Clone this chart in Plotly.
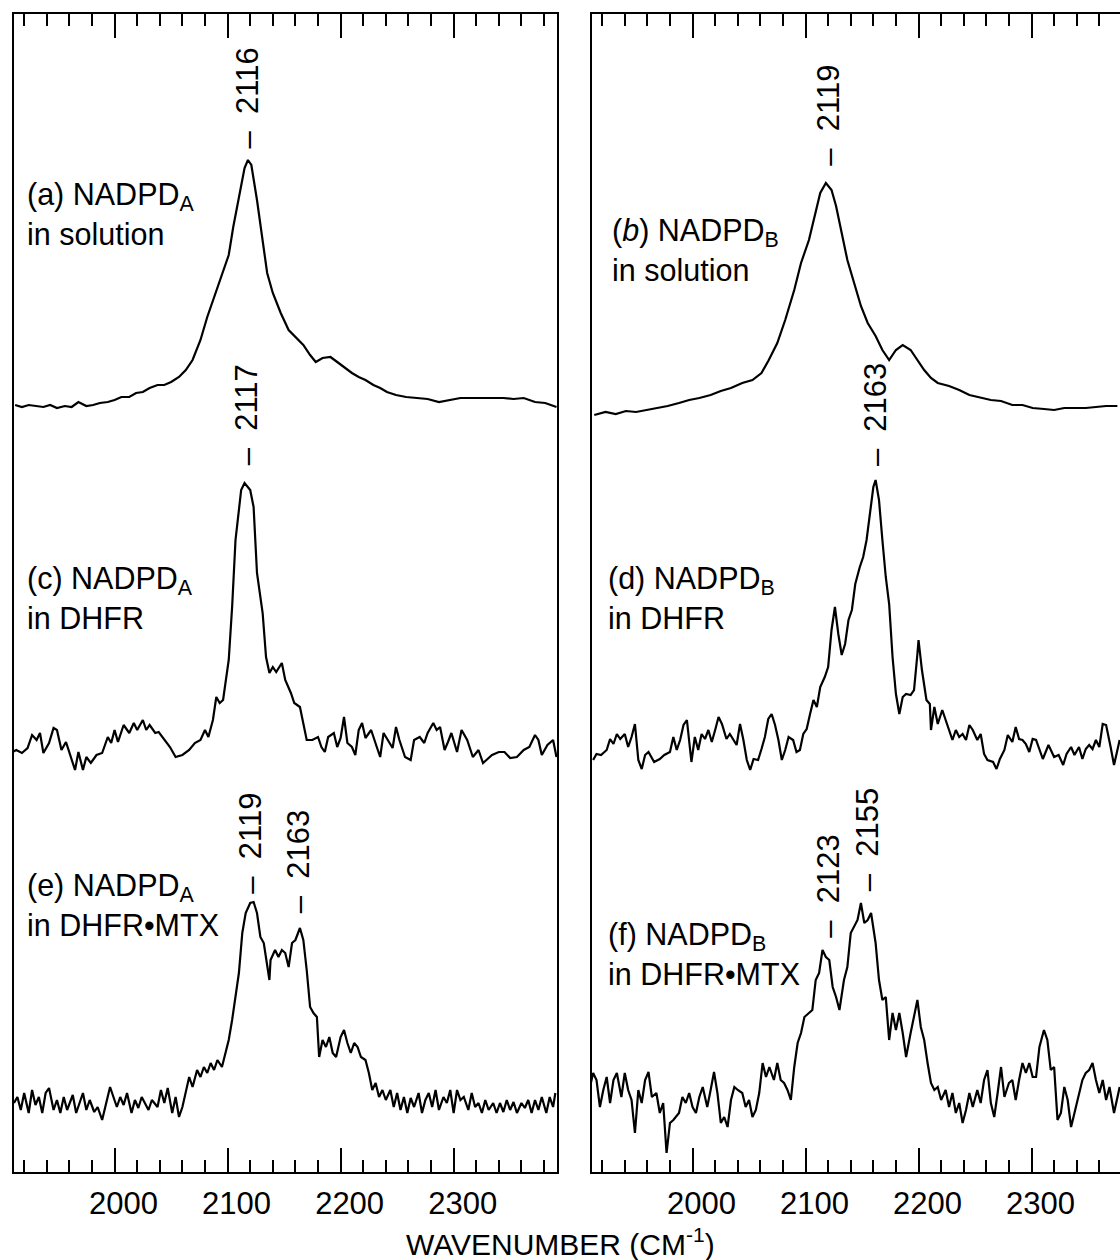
import plotly.graph_objects as go

# ---------------- data (wavenumber in cm-1, intensity in arbitrary units above each baseline) -------------
wn_a = [1912,1918,1924,1931,1937,1943,1949,1956,1962,1968,1975,1981,1987,1994,2000,2006,2013,2019,2025,2031,
        2038,2044,2050,2057,2063,2069,2076,2082,2088,2094,2101,2105,2110,2115,2118,2121,2126,2131,2135,2140,
        2147,2154,2161,2167,2173,2178,2184,2191,2197,2203,2210,2216,2222,2229,2235,2241,2249,2258,2268,2277,
        2287,2296,2306,2315,2325,2334,2344,2353,2362,2372,2381,2391]
int_a = [0,-2,0,-1,-2,0,-3,-1,-2,3,-1,0,2,3,5,8,8,12,13,17,
         20,20,23,28,35,45,65,88,108,128,150,178,208,237,245,240,205,165,132,112,
         92,75,67,60,50,43,47,48,43,38,32,28,25,20,17,13,10,8,7,6,
         3,5,7,7,7,7,7,6,7,3,2,-2]

wn_b = [1913,1923,1932,1941,1950,1960,1969,1978,1988,1997,2006,2016,2025,2034,2044,2053,2061,2067,2075,2082,
        2090,2096,2103,2109,2113,2118,2123,2127,2132,2137,2143,2149,2155,2162,2168,2174,2180,2186,2193,2199,
        2205,2211,2217,2227,2236,2245,2255,2264,2273,2283,2292,2301,2311,2320,2329,2338,2348,2357,2366,2376]
int_b = [-2,1,-1,2,1,3,5,7,10,13,15,18,22,25,30,33,40,52,70,93,
         123,150,173,200,220,230,223,207,180,153,130,107,90,77,63,53,63,68,63,53,
         43,35,30,27,23,18,15,13,12,8,8,5,4,3,5,5,5,6,7,7]

wn_c = [1910,1913,1918,1923,1927,1931,1934,1937,1942,1946,1949,1953,1957,1962,1965,1968,1972,1975,1979,1984,
        1989,1994,1997,2000,2003,2008,2013,2017,2020,2025,2028,2031,2036,2039,2044,2049,2054,2060,2066,2071,
        2076,2080,2083,2087,2090,2093,2096,2101,2104,2107,2112,2115,2120,2123,2126,2131,2134,2137,2140,2143,
        2148,2151,2156,2159,2164,2167,2170,2175,2180,2183,2186,2189,2194,2197,2200,2203,2206,2210,2213,2216,
        2219,2222,2227,2232,2235,2238,2243,2246,2249,2252,2257,2262,2265,2270,2274,2277,2282,2285,2288,2292,
        2295,2298,2303,2307,2312,2317,2322,2326,2329,2334,2340,2345,2350,2356,2362,2367,2372,2375,2378,2383,
        2388,2391]
int_c = [-2,0,-3,2,15,10,17,-3,7,22,20,0,8,-10,-20,-2,-20,-7,-13,-5,
         -3,13,7,20,8,25,17,27,20,30,20,25,17,18,10,3,-7,-5,0,7,
         10,20,13,30,53,47,50,90,143,210,260,267,260,243,177,137,93,77,83,78,
         87,70,57,47,43,27,10,10,13,3,-2,13,17,3,12,33,7,3,-5,20,
         27,12,20,3,-7,17,7,2,23,10,-7,-10,10,13,7,17,27,20,23,0,
         8,17,-2,20,10,-7,0,-13,-10,-5,-2,-2,-8,-7,0,3,15,10,-5,5,
         10,-7]

wn_d = [1912,1915,1919,1924,1927,1930,1933,1936,1940,1943,1946,1949,1952,1955,1958,1961,1966,1971,1975,1980,
        1983,1986,1989,1992,1995,1999,2002,2005,2008,2011,2014,2017,2020,2023,2026,2030,2033,2036,2039,2042,
        2045,2048,2051,2054,2058,2061,2064,2067,2070,2073,2076,2079,2082,2085,2089,2092,2095,2098,2101,2104,
        2107,2110,2113,2117,2120,2123,2126,2129,2132,2135,2138,2141,2144,2148,2151,2154,2157,2160,2162,2165,
        2168,2171,2174,2177,2180,2183,2186,2189,2193,2196,2199,2200,2203,2207,2210,2211,2214,2217,2221,2224,
        2227,2230,2233,2236,2239,2242,2245,2248,2252,2255,2258,2261,2266,2269,2272,2276,2279,2283,2286,2289,
        2292,2295,2298,2301,2304,2307,2310,2315,2320,2324,2328,2331,2335,2338,2342,2345,2348,2351,2354,2357,
        2360,2363,2366,2370,2373,2376,2378]
int_d = [-3,3,2,7,18,13,23,18,23,10,20,33,-3,-12,2,5,-5,-2,2,5,
         20,7,17,32,37,-5,20,7,23,18,27,15,27,40,33,18,23,17,12,33,
         17,-3,-13,-2,-3,8,20,38,43,32,17,-3,7,20,17,5,7,23,28,43,
         57,50,70,80,90,127,150,123,102,113,137,147,173,190,200,217,243,270,277,257,
         217,180,153,100,63,43,60,63,62,67,103,117,87,57,53,27,50,33,47,37,
         27,17,27,20,23,17,32,27,17,23,3,-3,-5,-12,-2,7,22,15,30,18,
         17,13,5,18,17,7,-2,12,0,2,-8,3,10,2,10,-2,8,12,8,17,
         10,33,32,10,-8,7,17]

wn_e = [1911,1914,1917,1920,1924,1927,1930,1933,1936,1939,1942,1946,1949,1952,1955,1958,
        1963,1966,1969,1972,1975,1978,1982,1985,
        1989,1993,1996,1999,2002,2005,2008,2011,2015,2018,2021,2024,2027,2030,2033,
        2038,2041,2044,2047,2051,2054,2057,2060,2063,2066,2069,2073,2076,2079,2082,2085,2088,2091,2095,2098,
        2101,2104,2107,2110,2113,2116,2120,2123,2126,2129,2132,2135,
        2137,2138,
        2142,2145,2148,2151,2154,2157,2160,2164,2167,2170,2173,2176,2179,
        2181,
        2184,2187,2190,2193,2196,2200,2203,2206,2209,2212,2215,2218,2222,2225,2228,2231,2234,2237,2240,2244,
        2247,2250,2253,2256,2259,2262,2265,2269,2272,2275,2278,2281,2284,2287,2291,2294,2297,2300,2303,2306,
        2309,2313,2316,2319,2322,2325,2328,2331,2335,2338,2341,2344,2347,2350,2353,2356,2360,2363,2366,2369,
        2372,2375,2378,2382,2385,2388,
        2390]
int_e = [7,13,0,17,-3,20,5,13,-3,17,22,0,10,-3,13,0,
         15,-3,7,17,0,10,-2,3,
         -10,10,23,13,3,13,5,17,-3,10,2,13,7,0,10,
         3,20,7,22,-3,13,-7,3,17,33,23,40,33,43,37,47,40,50,43,57,
         70,90,113,137,177,197,207,208,197,173,167,147,
         130,150,
         160,153,160,157,143,167,170,182,170,140,103,97,93,
         53,
         70,63,73,57,53,73,80,67,57,67,63,53,50,37,20,27,13,20,10,20,
         3,17,0,13,-3,12,3,17,-3,10,17,3,20,0,13,7,20,-3,20,10,
         13,0,17,3,7,-3,10,0,7,-3,7,-2,10,0,8,-3,7,2,10,-3,
         10,0,13,-3,13,3,
         17]

wn_f = [1910,1912,1915,1918,1921,1924,1927,1930,1933,1937,1940,1943,1946,1949,1952,1955,1958,1961,1964,1968,
        1971,1974,1977,1980,1983,
        1988,1991,1994,1997,2000,2003,2006,2009,2013,2016,2019,2022,2025,2028,2031,2034,2037,2040,2044,2047,
        2050,2053,2056,2059,2062,2065,2068,2072,2075,2078,2081,2084,2087,2090,2093,2096,2099,2103,2106,2109,
        2112,2115,2118,2121,2124,2127,2130,2134,2137,2140,2143,2146,2149,2152,2155,2158,2162,2165,2168,2171,
        2174,2177,2180,2183,2186,2189,2193,2196,2199,2202,2205,2208,2211,2214,2217,2220,2224,2227,2230,2233,
        2236,2239,2242,2245,2248,2252,2255,2258,2261,2264,2267,2270,2273,2276,2280,2283,2286,2289,2292,2295,
        2298,2301,2304,2307,2311,2314,2317,2320,2323,2326,2329,2332,2335,2338,2342,2345,2348,2351,2354,2357,
        2360,2363,2366,2369,2373,2376,2378]
int_f = [7,17,10,-17,0,13,-13,10,17,-7,17,0,-10,-43,0,-13,10,18,-7,-3,
         -23,-13,-63,-33,-30,
         -23,-7,-13,-3,-17,-23,-7,3,-17,0,18,-3,-33,-27,-37,-10,3,0,-3,-17,
         -10,-27,-20,-3,27,13,23,10,27,10,7,0,-10,23,47,57,73,77,80,110,
         117,140,133,130,103,93,80,110,123,157,163,170,187,167,170,177,147,110,90,93,
         50,77,60,77,57,33,57,73,90,63,50,27,7,0,3,-10,0,-17,-3,-23,
         -13,-33,-20,-3,-17,0,-13,10,20,-13,-27,-3,23,-7,7,10,-10,10,27,17,
         27,13,13,43,60,50,20,23,-30,-23,3,-10,-37,-23,-3,10,17,20,27,10,
         -3,10,-10,3,-23,-7,3]

# vertical stacking offsets of the six spectra (same arbitrary units)
stack_offset = {"a": 767, "b": 759, "c": 422, "d": 415, "e": 62, "f": 82}

panel_labels = {
    "a": "(a) NADPD<sub>A</sub><br>in solution",
    "b": "(<i>b</i>) NADPD<sub>B</sub><br>in solution",
    "c": "(c) NADPD<sub>A</sub><br>in DHFR",
    "d": "(d) NADPD<sub>B</sub><br>in DHFR",
    "e": "(e) NADPD<sub>A</sub><br>in DHFR\u2022MTX",
    "f": "(f) NADPD<sub>B</sub><br>in DHFR\u2022MTX",
}
# peak markers: (spectrum, label value, x position, y position of the marker's foot)
peak_marks = [("a", "2116", 2118, 1022), ("c", "2117", 2117, 705), ("e", "2119", 2120, 276),
              ("e", "2163", 2163, 257), ("b", "2119", 2120, 1004), ("d", "2163", 2162, 704),
              ("f", "2123", 2120, 232), ("f", "2155", 2155, 279)]

x_range_left = [1911, 2391.5]
x_range_right = [1911, 2378.3]

# ---------------- figure -------------
FONT = "Liberation Sans, Arial, Helvetica, sans-serif"
series = {"a": (wn_a, int_a), "b": (wn_b, int_b), "c": (wn_c, int_c),
          "d": (wn_d, int_d), "e": (wn_e, int_e), "f": (wn_f, int_f)}
left_set = ("a", "c", "e")

fig = go.Figure()
for key, (wx, wy) in series.items():
    n = min(len(wx), len(wy))
    off = stack_offset[key]
    left = key in left_set
    fig.add_trace(go.Scatter(
        x=wx[:n], y=[v + off for v in wy[:n]], mode="lines",
        line=dict(color="black", width=2.2),
        xaxis="x" if left else "x2", yaxis="y" if left else "y2",
        showlegend=False, hoverinfo="skip"))

label_pos = {"a": (1921, 958), "b": (1927, 922), "c": (1921, 574),
             "d": (1923, 574), "e": (1921, 267), "f": (1923, 218)}
annotations = []
for key, txt in panel_labels.items():
    left = key in left_set
    lx, ly = label_pos[key]
    annotations.append(dict(x=lx, y=ly, xref="x" if left else "x2", yref="y" if left else "y2",
                            text=txt, showarrow=False, xanchor="left", yanchor="middle", align="left",
                            font=dict(family=FONT, size=30.5, color="black")))
for key, val, px, py in peak_marks:
    left = key in left_set
    annotations.append(dict(x=px, y=py, xref="x" if left else "x2", yref="y" if left else "y2",
                            text="\u2013\u00a0\u00a0" + val, textangle=-90, showarrow=False,
                            xanchor="center", yanchor="bottom",
                            font=dict(family=FONT, size=31, color="black")))
annotations.append(dict(x=0.4937, y=-0.0605, xref="paper", yref="paper",
                        text="WAVENUMBER (CM<sup>-1</sup>)", showarrow=False,
                        xanchor="center", yanchor="middle",
                        font=dict(family=FONT, size=30, color="black")))

xaxis_common = dict(
    showgrid=False, zeroline=False, showline=True, linecolor="black", linewidth=2,
    mirror="allticks", ticks="inside", ticklen=24, tickwidth=2, tickcolor="black",
    tick0=0, dtick=100, tickfont=dict(family=FONT, size=31, color="black"),
    ticklabelshift=9, ticklabelstandoff=3,
    minor=dict(dtick=20, tick0=0, ticks="inside", ticklen=12, tickwidth=2,
               tickcolor="black", showgrid=False),
)
yaxis_common = dict(showgrid=False, zeroline=False, showticklabels=False, ticks="",
                    showline=True, linecolor="black", linewidth=2, range=[0, 1158], fixedrange=True)

fig.update_layout(
    width=1120, height=1260, autosize=False,
    margin=dict(l=14, r=0, t=14, b=88, pad=0),
    paper_bgcolor="white", plot_bgcolor="white",
    xaxis=dict(domain=[0, 0.491], range=x_range_left, anchor="y", **xaxis_common),
    yaxis=dict(domain=[0, 1], anchor="x", mirror=True, **yaxis_common),
    xaxis2=dict(domain=[0.5226, 1], range=x_range_right, anchor="y2", **xaxis_common),
    yaxis2=dict(domain=[0, 1], anchor="x2", mirror=False, **yaxis_common),
    annotations=annotations,
    showlegend=False,
)

fig.write_html("out.html")
